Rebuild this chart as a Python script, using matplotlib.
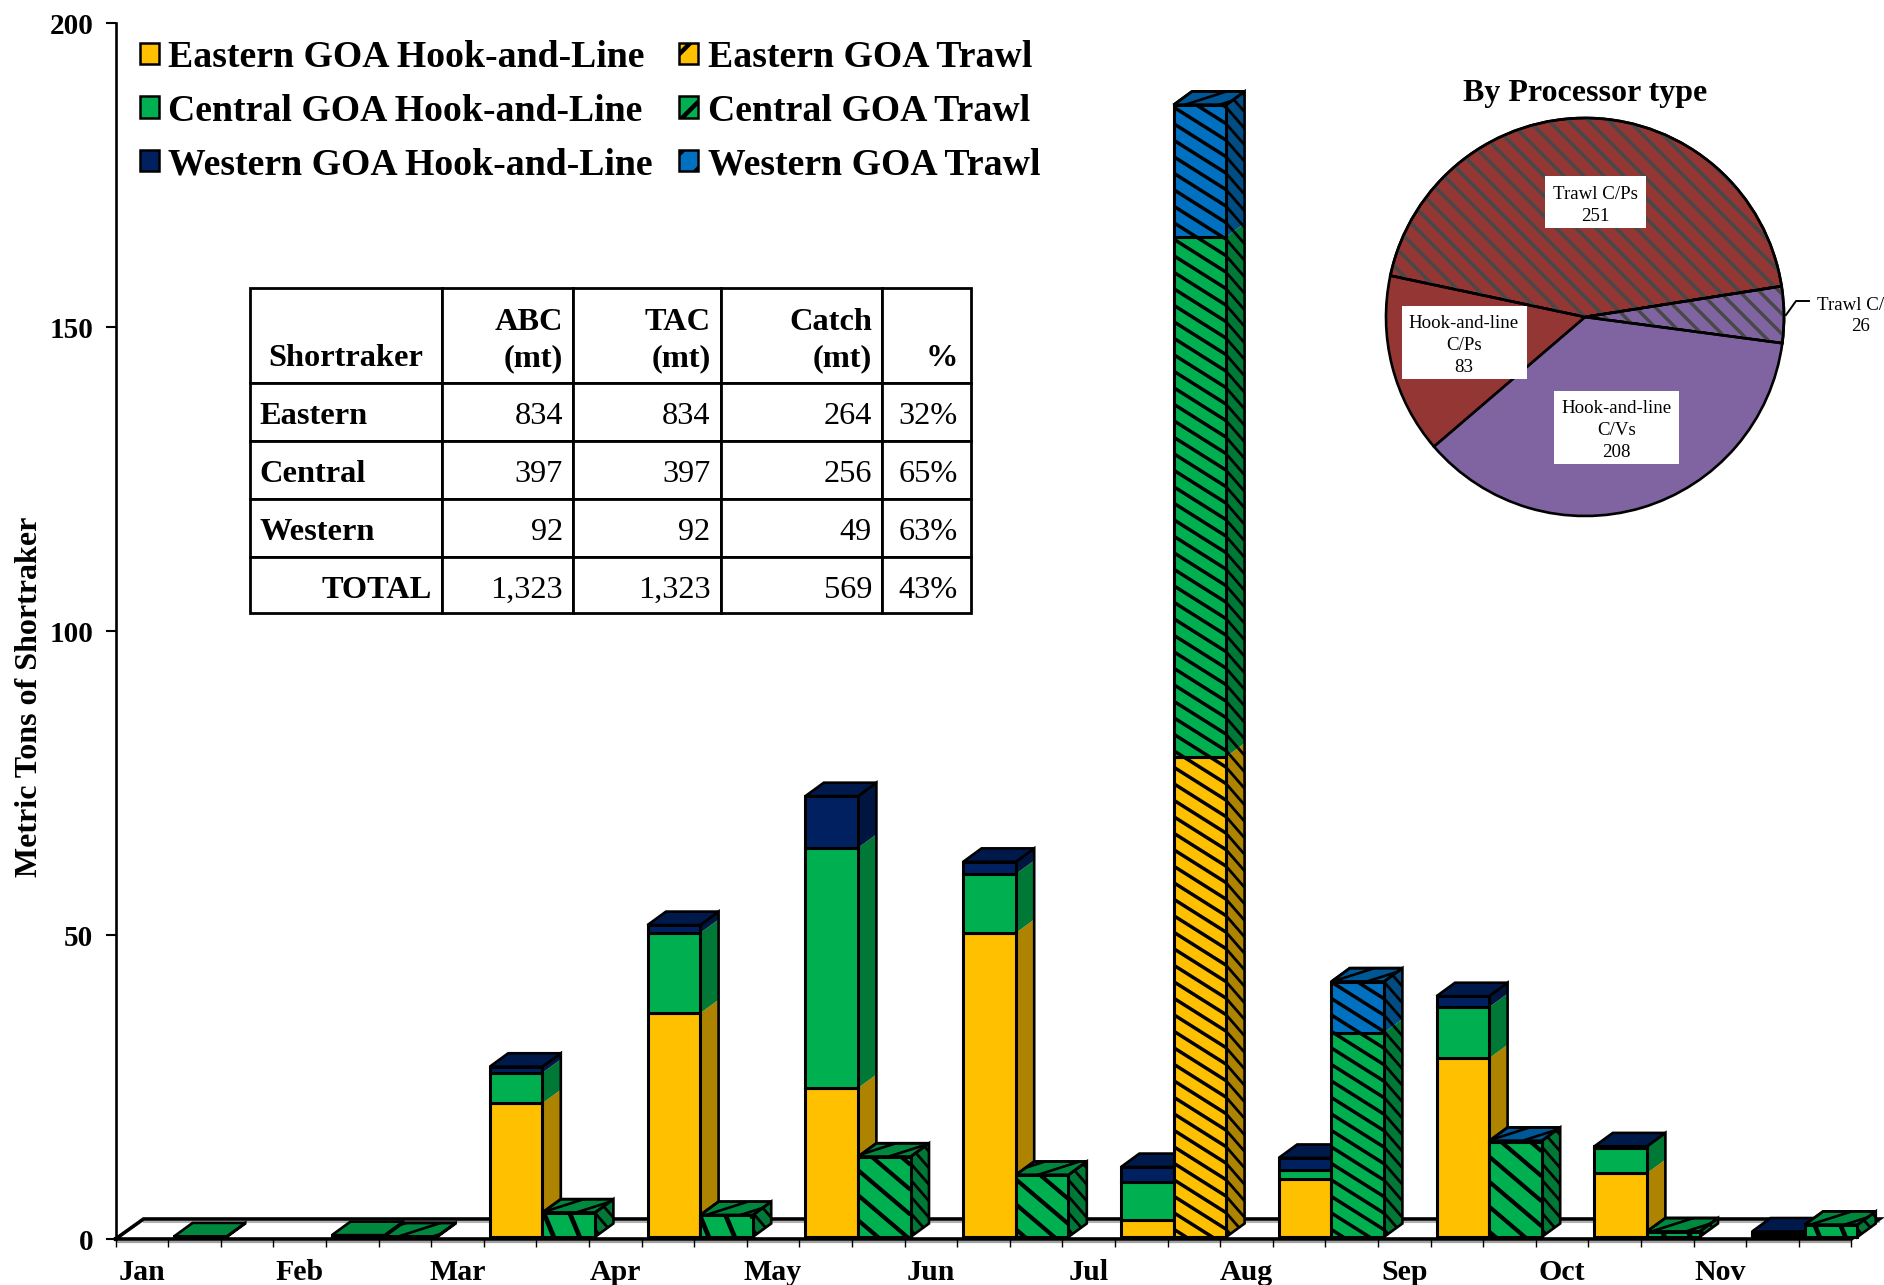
import numpy as np
import matplotlib
matplotlib.use('Agg')
import matplotlib.pyplot as plt
from matplotlib.collections import LineCollection
from matplotlib.patches import Patch, Polygon, Wedge
from matplotlib.table import Table

plt.rcParams['font.family'] = ['Liberation Serif', 'DejaVu Serif']
plt.rcParams['hatch.linewidth'] = 3.2

# bar data
months = ['Jan', 'Feb', 'Mar', 'Apr', 'May', 'Jun', 'Jul', 'Aug', 'Sep', 'Oct', 'Nov']
hl_east = [0, 0, 22.0, 36.8, 24.5, 50.0, 2.8, 9.5, 29.4, 10.5, 0.4]
hl_central = [0.1, 0.3, 5.0, 13.2, 39.5, 9.7, 6.2, 1.5, 8.4, 4.2, 0.3]
hl_west = [0, 0, 1.0, 1.3, 8.5, 2.0, 2.5, 2.0, 1.8, 0.2, 0.2]
tr_east = [0, 0, 0, 0, 0, 0, 79.0, 0, 0, 0, 0]
tr_central = [0, 0.1, 4.0, 3.6, 13.2, 10.2, 85.5, 33.6, 15.6, 0.9, 2.0]
tr_west = [0, 0, 0, 0, 0, 0, 21.7, 8.4, 0.2, 0, 0]

# table data
table_rows = [
    ['\nShortraker', 'ABC\n(mt)', 'TAC\n(mt)', 'Catch\n(mt)', '\n%'],
    ['Eastern', '834', '834', '264', '32%'],
    ['Central', '397', '397', '256', '65%'],
    ['Western', '92', '92', '49', '63%'],
    ['TOTAL', '1,323', '1,323', '569', '43%'],
]

# pie data
pie_values = [251, 26, 208, 83]
pie_colors = ['#943634', '#8064A2', '#8064A2', '#943634']
pie_hatched = [True, True, False, False]

yellow, green, navy, blue = '#FFC000', '#00B050', '#002060', '#0070C0'

W, H = 1884, 1285
SX = 52.6      # px per slot
SY = 6.08      # px per ton
DX, DY = 18.5 / SX, 13.5 / SY     # bar depth in data units
X_OFF = 6 / SX
Y_OFF = 2 / SY


def shade(color, f):
    r, g, b = matplotlib.colors.to_rgb(color)
    return (r * f, g * f, b * f)


def stripes(ax, verts, slope, pitch, lw, color, z, sx=SX, sy=SY):
    # stripes drawn in pixel space and clipped to the face
    verts = np.asarray(verts, dtype=float)
    clip = Polygon(verts, closed=True, facecolor='none', edgecolor='none', zorder=z, clip_on=False)
    ax.add_patch(clip)
    px = verts[:, 0] * sx
    py = verts[:, 1] * sy
    c = py + slope * px
    segs = []
    for k in np.arange(np.floor(c.min() / pitch), np.ceil(c.max() / pitch) + 1):
        c0 = k * pitch
        x0, x1 = px.min(), px.max()
        segs.append([(x0 / sx, (c0 - slope * x0) / sy), (x1 / sx, (c0 - slope * x1) / sy)])
    lc = LineCollection(segs, colors=color, linewidths=lw, zorder=z)
    ax.add_collection(lc, autolim=False)
    lc.set_clip_path(clip)
    lc.set_clip_box(None)


def draw_stack(ax, slot, values, colors, hatched, z):
    left = slot + X_OFF
    total = sum(values)
    if total == 0:
        return z
    # small trawl bars have the pattern squeezed into the box
    if total < 6:
        slope, pitch, hatch_lw = 2.4, 62, 3.4
    elif total < 20:
        slope, pitch, hatch_lw = 0.85, 25, 3.0
    else:
        slope, pitch, hatch_lw = 0.63, 16.5, 2.5
    bottom = Y_OFF
    for val, col in zip(values, colors):
        if val == 0:
            continue
        # side face
        side = [(left + 1, bottom), (left + 1 + DX, bottom + DY),
                (left + 1 + DX, bottom + val + DY), (left + 1, bottom + val)]
        ax.add_patch(Polygon(side, closed=True, facecolor=shade(col, 0.68), edgecolor='none', zorder=z, clip_on=False))
        z += 1
        if hatched:
            stripes(ax, side, 1.15, 16.5, 2.0, 'black', z)
            z += 1
        bottom += val
    top_col = [c for v, c in zip(values, colors) if v > 0][-1]
    top = bottom
    side_all = [(left + 1, Y_OFF), (left + 1 + DX, Y_OFF + DY), (left + 1 + DX, top + DY), (left + 1, top)]
    ax.add_patch(Polygon(side_all, closed=True, facecolor='none', edgecolor='black', linewidth=1.9, zorder=z, clip_on=False))
    z += 1
    top_face = [(left, top), (left + DX, top + DY), (left + 1 + DX, top + DY), (left + 1, top)]
    ax.add_patch(Polygon(top_face, closed=True, facecolor=shade(top_col, 0.78), edgecolor='black', linewidth=1.9, zorder=z, clip_on=False))
    z += 1
    if hatched:
        stripes(ax, top_face, -0.32, 11, 1.9, 'black', z)
        z += 1
        ax.add_patch(Polygon(top_face, closed=True, facecolor='none', edgecolor='black', linewidth=1.9, zorder=z, clip_on=False))
        z += 1
    # front faces through the normal bar call
    bottom = Y_OFF
    for val, col in zip(values, colors):
        if val == 0:
            continue
        ax.bar(left, val, width=1, bottom=bottom, align='edge', color=col, edgecolor='none', zorder=z, clip_on=False)
        z += 1
        if hatched:
            face = [(left, bottom), (left + 1, bottom), (left + 1, bottom + val), (left, bottom + val)]
            stripes(ax, face, slope, pitch, hatch_lw, 'black', z)
            z += 1
        ax.bar(left, val, width=1, bottom=bottom, align='edge', color='none', edgecolor='black', linewidth=2.2, zorder=z, clip_on=False)
        z += 1
        bottom += val
    return z


fig = plt.figure(figsize=(W / 100, H / 100), dpi=100)
ax = fig.add_axes([115.5 / W, (H - 1239) / H, 33 * SX / W, 200 * SY / H])
ax.set_xlim(0, 33)
ax.set_ylim(0, 200)
for side_name in ['top', 'right', 'bottom']:
    ax.spines[side_name].set_visible(False)
ax.spines['left'].set_linewidth(1.9)

# floor of the 3D box
depth_x, depth_y = 28 / SX, 20 / SY
ax.plot([0, 33], [-2.6 / SY, -2.6 / SY], color='#a0a0a0', lw=1.6, clip_on=False, zorder=0.5, solid_capstyle='butt')
ax.plot([depth_x, 33 + depth_x], [depth_y - 2.8 / SY] * 2, color='#b0b0b0', lw=1.5, clip_on=False, zorder=0.5)
ax.plot([0, depth_x, 33 + depth_x, 33, 0], [0, depth_y, depth_y, 0, 0], color='black', lw=2.6,
        clip_on=False, zorder=0.6, solid_joinstyle='miter')

z = 2
for i in range(len(months)):
    z = draw_stack(ax, 3 * i + 1, [hl_east[i], hl_central[i], hl_west[i]], [yellow, green, navy], False, z)
    z = draw_stack(ax, 3 * i + 2, [tr_east[i], tr_central[i], tr_west[i]], [yellow, green, blue], True, z)

ax.set_yticks([0, 50, 100, 150, 200])
ax.set_yticklabels(['0', '50', '100', '150', '200'], fontsize=21, fontweight='bold')
ax.tick_params(axis='y', length=7, width=1.5, pad=9)
ax.set_xticks(np.arange(0, 34))
ax.set_xticklabels([])
ax.tick_params(axis='x', which='major', length=6, width=1.0)
ax.set_xticks(np.arange(len(months)) * 3 + 0.5, minor=True)
ax.set_xticklabels(months, minor=True, fontsize=21.5, fontweight='bold')
ax.tick_params(axis='x', which='minor', length=0, pad=14.5)
ax.set_ylabel('Metric Tons of Shortraker', fontsize=23, fontweight='bold')
ax.yaxis.set_label_coords((44 - 115.5) / (33 * SX), 0.446)

# legend
handles = [
    Patch(facecolor=yellow, edgecolor='black', linewidth=1.8, label='Eastern GOA Hook-and-Line'),
    Patch(facecolor=green, edgecolor='black', linewidth=1.8, label='Central GOA Hook-and-Line'),
    Patch(facecolor=navy, edgecolor='black', linewidth=1.8, label='Western GOA Hook-and-Line'),
    Patch(facecolor=yellow, edgecolor='black', linewidth=1.8, hatch='/', label='Eastern GOA Trawl'),
    Patch(facecolor=green, edgecolor='black', linewidth=1.8, hatch='/', label='Central GOA Trawl'),
    Patch(facecolor=blue, edgecolor='black', linewidth=1.8, hatch='/', label='Western GOA Trawl'),
]
leg = ax.legend(handles=handles, ncol=2, frameon=False, loc='upper left',
                bbox_to_anchor=(140 / W, (H - 40) / H), bbox_transform=fig.transFigure,
                prop={'size': 27.2, 'weight': 'bold'}, borderpad=0, borderaxespad=0,
                handlelength=0.5, handleheight=0.5, handletextpad=0.25, columnspacing=0.7,
                labelspacing=0.49)
leg.set_zorder(z + 1)

# table
col_px = [249.5, 442, 573, 720.5, 882, 971]
row_px = [288, 383, 441, 499, 557, 613]
tb_w = col_px[-1] - col_px[0]
tb_h = row_px[-1] - row_px[0]
ax_w = 33 * SX
ax_h = 200 * SY
tbl = Table(ax, bbox=[(col_px[0] - 115.5) / ax_w, (1239 - row_px[-1]) / ax_h, tb_w / ax_w, tb_h / ax_h])


def nudge_text(cell, dy):
    # the cell puts its text in the exact middle, the original sits a bit lower
    orig = cell._set_text_position

    def shifted(renderer):
        orig(renderer)
        x, y = cell._text.get_position()
        cell._text.set_position((x, y - dy))
    cell._set_text_position = shifted


for r, row in enumerate(table_rows):
    for c, txt in enumerate(row):
        w_px = col_px[c + 1] - col_px[c]
        h_px = row_px[r + 1] - row_px[r]
        if c == 0 and r == 0:
            loc = 'center'
        elif c == 0 and r < 4:
            loc = 'left'
        else:
            loc = 'right'
        cell = tbl.add_cell(r, c, width=w_px / ax_w, height=h_px / ax_h, text=txt, loc=loc,
                            facecolor='white', edgecolor='black')
        cell.set_linewidth(2.0)
        cell.PAD = (13 if c == 4 else 10) / w_px
        bold = r == 0 or c == 0
        cell.set_text_props(fontsize=23.3, fontweight='bold' if bold else 'normal', linespacing=1.3)
        nudge_text(cell, 5)
tbl.auto_set_font_size(False)
tbl.set_zorder(z + 1)
ax.add_table(tbl)

# pie inset
cx, cy, rad = 1585, 317, 199
pad = 1.03
ax2 = fig.add_axes([(cx - rad * pad) / W, (H - cy - rad * pad) / H, 2 * rad * pad / W, 2 * rad * pad / H])
wedges, _ = ax2.pie(pie_values, startangle=168, counterclock=False, colors=pie_colors, radius=1,
                    wedgeprops={'edgecolor': 'black', 'linewidth': 1.9})
ax2.set_xlim(-pad, pad)
ax2.set_ylim(-pad, pad)
for wedge, flag in zip(wedges, pie_hatched):
    if flag:
        segs = []
        for k in np.arange(-20, 21):
            c0 = k * 20 / rad
            segs.append([(-1.1, c0 + 1.1), (1.1, c0 - 1.1)])
        lc = LineCollection(segs, colors='#484848', linewidths=2.5, zorder=wedge.get_zorder() + 0.1)
        ax2.add_collection(lc, autolim=False)
        lc.set_clip_path(wedge)
        ax2.add_patch(Wedge(wedge.center, wedge.r, wedge.theta1, wedge.theta2, facecolor='none',
                            edgecolor='black', linewidth=1.9, zorder=wedge.get_zorder() + 0.2))


def pie_xy(px, py):
    return (px - cx) / rad, (cy - py) / rad


def pie_label(txt, px, py, w_px, h_px):
    x, y = pie_xy(px, py)
    box_w, box_h = w_px / rad, h_px / rad
    ax2.add_patch(plt.Rectangle((x - box_w / 2, y - box_h / 2), box_w, box_h, facecolor='white',
                                edgecolor='none', zorder=5))
    tx, ty = pie_xy(px, py + 3.5)
    ax2.text(tx, ty, txt, ha='center', va='center', fontsize=13.6, linespacing=1.35, zorder=6)


pie_label('Trawl C/Ps\n251', 1595, 202, 101, 52)
pie_label('Hook-and-line\nC/Ps\n83', 1464, 342, 125, 73)
pie_label('Hook-and-line\nC/Vs\n208', 1616.5, 427, 125, 73)
lx, ly = pie_xy(1861, 316)
ax2.text(lx, ly, 'Trawl C/Vs\n26', ha='center', va='center', fontsize=13.6, linespacing=1.35, clip_on=False)
ax2.plot(*zip(pie_xy(1786, 315), pie_xy(1796, 301), pie_xy(1809, 301)), color='black', lw=1.4, clip_on=False)
ax2.set_title('By Processor type', fontsize=23, fontweight='bold', pad=8)

fig.savefig('out.png', dpi=100)
